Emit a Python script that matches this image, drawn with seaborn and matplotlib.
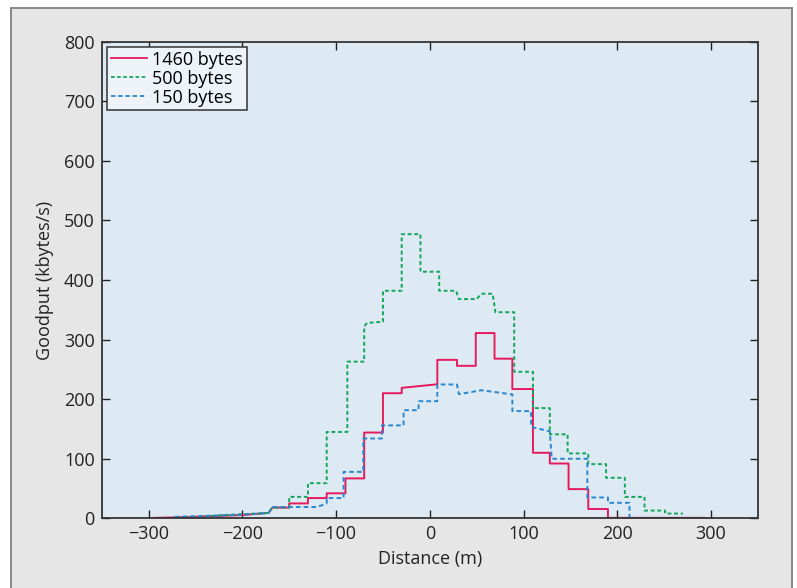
import pandas as pd
import seaborn as sns
import matplotlib.pyplot as plt
from matplotlib.patches import Rectangle
from matplotlib.lines import Line2D

# step outlines (distance in m, goodput in kbytes/s)
x_1460 = [-294, -260, -200, -172, -168, -150, -150, -130, -130, -110, -110, -90, -90, -70, -70, -50, -50,
          -30, -30, 8, 8, 29, 29, 49, 49, 69, 69, 88, 88, 110, 110, 128, 128, 148, 148, 169, 169, 190, 190, 293]
y_1460 = [0.8, 2, 5.5, 9, 18, 18, 25, 25, 34, 34, 42, 42, 67, 67, 144, 144, 210,
          210, 219, 225, 266, 266, 256, 256, 311, 311, 268, 268, 217, 217, 110, 110, 92, 92, 49, 49, 15.6, 15.6, 0.8, 0.8]

x_500 = [-275, -250, -220, -172, -168, -150, -150, -130, -130, -110, -110, -88, -88, -70, -70, -67, -50, -50,
         -30, -30, -10, -10, 10, 10, 28, 31, 50, 55, 67, 70, 90, 90, 110, 110, 128, 128, 147, 147, 169, 169,
         188, 188, 208, 208, 229, 229, 251, 251, 270]
y_500 = [0, 2, 5.5, 9, 18, 18, 36, 36, 59, 59, 145, 145, 263, 263, 322, 328, 330, 382,
         382, 477, 477, 414, 414, 382, 382, 368, 368, 377, 377, 346, 346, 246, 246, 185, 185, 141, 141, 109, 109,
         91, 91, 68, 68, 36, 36, 13, 13, 8, 8]

x_150 = [-272, -200, -172, -168, -120, -110, -110, -92, -92, -71, -71, -51, -51, -28, -28, -12, -12, 8, 8,
         29, 31, 55, 88, 88, 108, 108, 128, 130, 168, 168, 190, 190, 213, 213, 289]
y_150 = [2.5, 6, 9, 19, 19, 25, 34, 34, 78, 78, 134, 134, 156, 156, 181.5, 181.5, 196.6, 196.6, 224.7,
         224.7, 208.4, 215, 208, 180, 180, 153.5, 146, 100, 100, 35, 35, 26, 26, 0, 0]

labels = ["1460 bytes", "500 bytes", "150 bytes"]
colors = ["#e5195c", "#13a55a", "#2a86cf"]
dash_styles = {"1460 bytes": "", "500 bytes": (2, 1.4), "150 bytes": (2.4, 1.6)}

frames = []
for lab, xs, ys in zip(labels, [x_1460, x_500, x_150], [y_1460, y_500, y_150]):
    frames.append(pd.DataFrame({"Distance": xs, "Goodput": ys, "series": lab}))
df = pd.concat(frames, ignore_index=True)

plt.rcParams["font.family"] = ["Open Sans", "DejaVu Sans"]
fs = 13

fig = plt.figure(figsize=(7.97, 5.88), dpi=100, facecolor="white")
fig.patches.append(Rectangle((0.0138, -0.02), 0.9796, 1.0064, transform=fig.transFigure,
                             facecolor="#e6e6e7", edgecolor="#7f7f7f", linewidth=1.3, zorder=-10))
ax = fig.add_axes([0.1276, 0.1185, 0.8234, 0.8105])
ax.set_facecolor("#ddeaf3")

sns.lineplot(data=df, x="Distance", y="Goodput", hue="series", style="series",
             palette=dict(zip(labels, colors)), dashes=dash_styles, sort=False, estimator=None,
             linewidth=1.4, legend=False, ax=ax)

ax.set_xlim(-350, 350)
ax.set_ylim(0, 800)
ax.set_xticks([-300, -200, -100, 0, 100, 200, 300])
ax.set_yticks(range(0, 900, 100))
ax.tick_params(direction="in", length=6, width=1, top=True, right=True, labelsize=fs, pad=5,
               colors="#222222")
for s in ax.spines.values():
    s.set_color("#333333")
    s.set_linewidth(1.3)
ax.set_xlabel("Distance (m)", fontsize=fs, labelpad=5, color="#222222")
ax.set_ylabel("Goodput (kbytes/s)", fontsize=fs, labelpad=7, color="#222222")

handles = [Line2D([], [], color=colors[0], lw=1.3),
           Line2D([], [], color=colors[1], lw=1.3, dashes=dash_styles["500 bytes"]),
           Line2D([], [], color=colors[2], lw=1.3, dashes=dash_styles["150 bytes"])]
leg = ax.legend(handles, labels, loc="upper left", fontsize=fs, frameon=True, fancybox=False,
                borderaxespad=0.3, handlelength=2.0, handletextpad=0.3, labelspacing=0.05,
                borderpad=0.2, facecolor="#edf3f8", edgecolor="#333333", framealpha=1)
leg.get_frame().set_linewidth(1.1)

fig.savefig("out.png", dpi=100)
